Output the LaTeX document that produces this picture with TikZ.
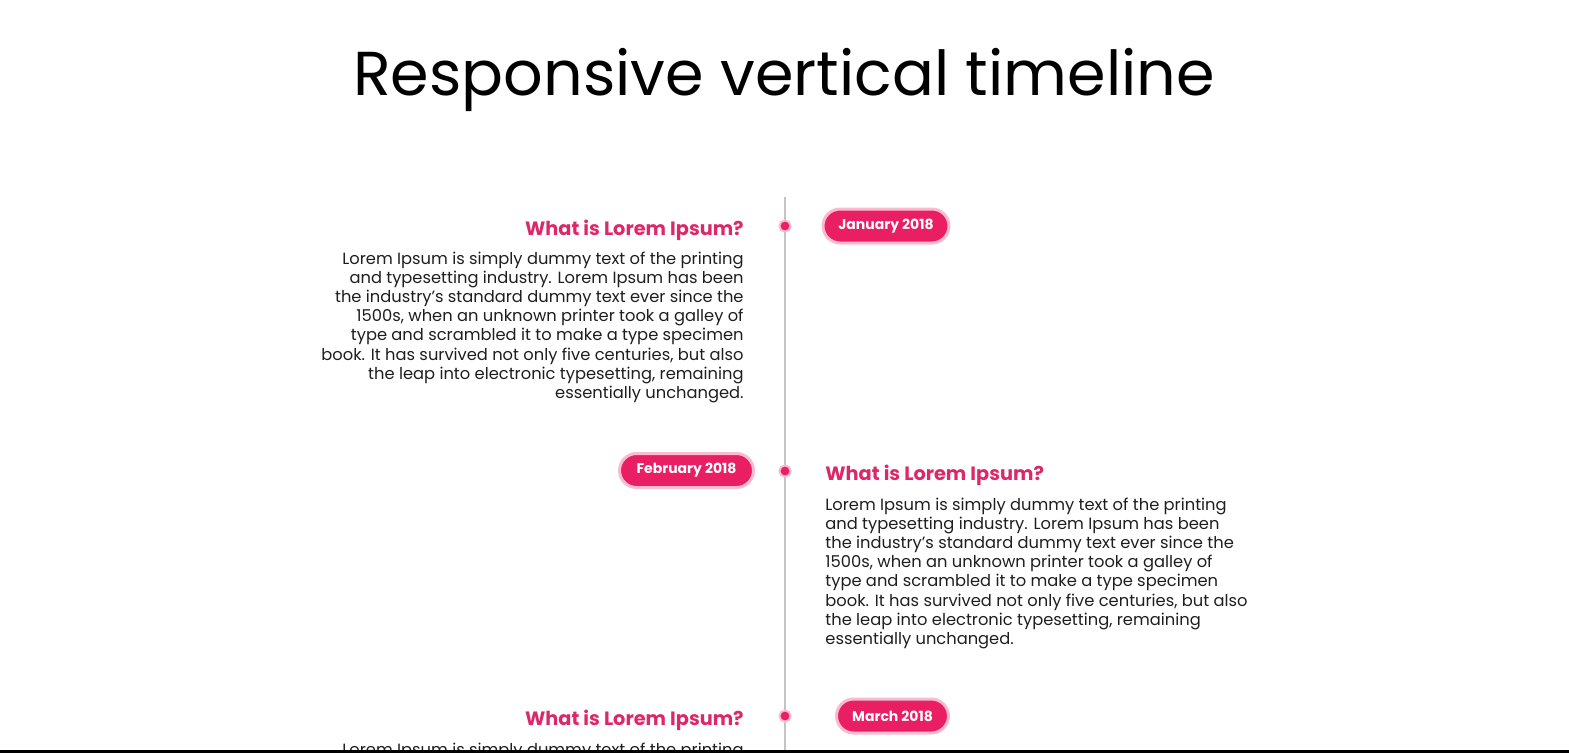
\documentclass[tikz,border=0pt]{standalone}
\usepackage{fontspec}
\setmainfont{Poppins}
\definecolor{pinkc}{HTML}{E91E63}
\definecolor{pinkhalo}{HTML}{F8BBD0}
\definecolor{headc}{HTML}{DC2868}
\definecolor{linec}{HTML}{C4C4C4}
\definecolor{bodyc}{HTML}{1E1E1E}
\begin{document}
\begin{tikzpicture}[x=0.5pt,y=-0.5pt,
  pill/.style={fill=pinkc, draw=pinkhalo, line width=1.5pt, rounded corners=8.5pt,
    minimum height=17pt, text=white, inner sep=0pt,
    font=\bfseries\fontsize{7}{8}\selectfont},
  dotnode/.style={circle, fill=pinkc, draw=pinkhalo, line width=1pt, minimum size=5.6pt, inner sep=0pt},
  head/.style={text=headc, inner sep=0pt, font=\bfseries\fontsize{9.65}{11}\selectfont},
  bodyl/.style={text=bodyc, inner sep=0pt, align=right, font=\fontsize{8.15}{9.6}\selectfont},
  bodyr/.style={text=bodyc, inner sep=0pt, align=left, font=\fontsize{8.15}{9.6}\selectfont},
  title/.style={inner sep=0pt, font=\fontsize{31}{36}\selectfont}
]
\useasboundingbox (0,0) rectangle (1569,752);
\clip (0,0) rectangle (1569,752);

\node[title, anchor=base] (title) at (784,95) {Responsive vertical timeline};

% timeline axis
\coordinate (top) at (785,197);
\coordinate (bottom) at (785,760);
\draw[linec, line width=1pt] (top) -- (bottom);

% dots
\node[dotnode] (d1) at (785,226) {};
\node[dotnode] (d2) at (785,471) {};
\node[dotnode] (d3) at (785,716) {};

% pills
\node[pill, minimum width=63pt] (p1) at (886,226) {January 2018};
\node[pill, minimum width=67pt] (p2) at (686.5,470.5) {February 2018};
\node[pill, minimum width=56pt] (p3) at (892.5,716) {March 2018};

% block 1
\node[head, anchor=base east] (h1) at (744,235) {What is Lorem Ipsum?};
\node[bodyl, anchor=base east] (b1) at (744,398.4) {Lorem Ipsum is simply dummy text of the printing\\
and typesetting industry. Lorem Ipsum has been\\
the industry's standard dummy text ever since the\\
1500s, when an unknown printer took a galley of\\
type and scrambled it to make a type specimen\\
book. It has survived not only five centuries, but also\\
the leap into electronic typesetting, remaining\\
essentially unchanged.};

% block 2
\node[head, anchor=base west] (h2) at (825,480) {What is Lorem Ipsum?};
\node[bodyr, anchor=base west] (b2) at (825,644.4) {Lorem Ipsum is simply dummy text of the printing\\
and typesetting industry. Lorem Ipsum has been\\
the industry's standard dummy text ever since the\\
1500s, when an unknown printer took a galley of\\
type and scrambled it to make a type specimen\\
book. It has survived not only five centuries, but also\\
the leap into electronic typesetting, remaining\\
essentially unchanged.};

% block 3
\node[head, anchor=base east] (h3) at (744,725) {What is Lorem Ipsum?};
\node[bodyl, anchor=base east] (b3) at (744,774.2) {Lorem Ipsum is simply dummy text of the printing\\
and typesetting industry. Lorem Ipsum has been};

% bottom edge
\fill[black] (0,750) rectangle (1569,753);
\end{tikzpicture}
\end{document}
